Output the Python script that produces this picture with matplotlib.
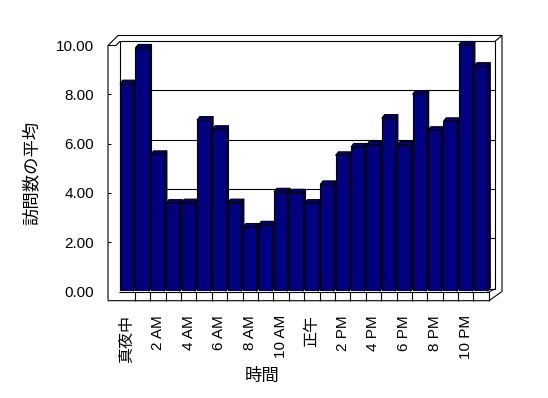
import matplotlib
matplotlib.use("Agg")
import matplotlib.pyplot as plt
from matplotlib.patches import Polygon

plt.rcParams['font.family'] = ['Liberation Sans', 'Noto Sans CJK JP']

hours = list(range(24))
visits = [8.43, 9.88, 5.56, 3.58, 3.60, 6.95, 6.58, 3.60, 2.61, 2.70, 4.04, 4.00,
          3.58, 4.34, 5.52, 5.86, 5.94, 7.03, 5.94, 8.00, 6.54, 6.90, 10.00, 9.14]
tick_hours = [0, 2, 4, 6, 8, 10, 12, 14, 16, 18, 20, 22]
tick_labels = ['真夜中', '2 AM', '4 AM', '6 AM', '8 AM', '10 AM', '正午',
               '2 PM', '4 PM', '6 PM', '8 PM', '10 PM']
y_ticks = [0, 2, 4, 6, 8, 10]

W, H = 548, 398
fig = plt.figure(figsize=(W / 100, H / 100), dpi=100)

# plot area in pixels (front plane)
x0p, x1p = 119.3, 488.9
y0p, y1p = 291.3, 45.0
ax = fig.add_axes([x0p / W, 1 - y0p / H, (x1p - x0p) / W, (y0p - y1p) / H])
ax.set_xlim(-0.5, 23.5)
ax.set_ylim(0, 10)
ax.patch.set_visible(False)
for s in ax.spines.values():
    s.set_visible(False)

pxx = (x1p - x0p) / 24
pxy = (y0p - y1p) / 10


def X(p):
    return -0.5 + (p - x0p) / pxx


def Y(p):
    return (y0p - p) / pxy


lw = 0.8
frame = dict(color='black', lw=lw, clip_on=False, solid_capstyle='butt')

# back wall
ax.add_patch(Polygon([(X(120), Y(289)), (X(120), Y(41.3)), (X(495), Y(41.3)), (X(495), Y(289))],
                     closed=True, facecolor='white', edgecolor='black', lw=lw, clip_on=False, zorder=0))
# gridlines on the back wall
ax.hlines([v + 4 / pxy for v in y_ticks[1:-1]], X(120), X(495), colors='black', lw=lw,
          zorder=1, clip_on=False)

# outer box
ax.plot([X(108), X(108), X(118), X(502), X(502), X(489), X(108)],
        [Y(300.7), Y(45.5), Y(35.5), Y(35.5), Y(291.5), Y(300.7), Y(300.7)], zorder=1, **frame)
ax.plot([X(108), X(116), X(120)], [Y(45.5), Y(45.5), Y(41.3)], zorder=1, **frame)
ax.plot([X(495), X(502)], [Y(41.3), Y(35.5)], zorder=1, **frame)
ax.plot([X(489), X(495)], [Y(291.7), Y(289)], zorder=1, **frame)

# floor front strip
ax.plot([X(119), X(489), X(489)], [Y(291.7), Y(291.7), Y(300.7)], zorder=2, **frame)
ax.vlines([h + 0.5 for h in hours[:-1]], Y(300.7), Y(291.7), colors='black', lw=lw,
          zorder=2, clip_on=False)

# y ticks on the left wall
ax.hlines(y_ticks[1:-1], X(108), X(111), colors='black', lw=lw, clip_on=False, zorder=2)

# 3d bars
bw = 0.864
bc = -0.023
ddx = 2.8 / pxx
ddy = 3.5 / pxy
navy = '#000080'
ax.bar([h + bc for h in hours], visits, width=bw, color=navy, edgecolor='black',
       linewidth=lw, zorder=3)
for h, v in zip(hours, visits):
    l = h + bc - bw / 2
    r = h + bc + bw / 2
    ax.add_patch(Polygon([(l, v), (l + ddx, v + ddy), (r + ddx, v + ddy), (r, v)], closed=True,
                         facecolor=navy, edgecolor='black', lw=lw, zorder=2.9, clip_on=False))
    ax.add_patch(Polygon([(r, 0), (r + ddx, ddy), (r + ddx, v + ddy), (r, v)], closed=True,
                         facecolor='#000066', edgecolor='black', lw=lw, zorder=2.9, clip_on=False))

ax.set_yticks(y_ticks)
ax.set_yticklabels(['%.2f' % v for v in y_ticks])
ax.set_xticks(tick_hours)
ax.set_xticklabels(tick_labels, rotation=90)
ax.tick_params(axis='y', length=0, pad=18.2, labelsize=11)
ax.tick_params(axis='x', length=0, pad=17, labelsize=11)
for t in ax.get_xticklabels():
    if t.get_text() in ('真夜中', '正午'):
        t.set_fontsize(11.5)

ax.set_xlabel('時間', fontsize=12.5, va='center')
ax.xaxis.set_label_coords((262 - x0p) / (x1p - x0p), (y0p - 375.5) / (y0p - y1p))
ax.set_ylabel('訪問数の平均', fontsize=12.5, va='center')
ax.yaxis.set_label_coords((31 - x0p) / (x1p - x0p), (y0p - 173) / (y0p - y1p))

fig.savefig('out.png', dpi=100)
